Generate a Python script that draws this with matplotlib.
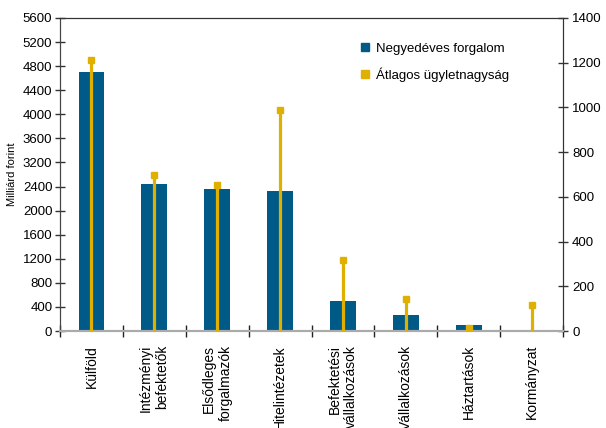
import numpy as np
import matplotlib
matplotlib.use('Agg')
import matplotlib.pyplot as plt
from matplotlib.lines import Line2D

plt.rcParams['font.family'] = ['Liberation Sans Narrow', 'Liberation Sans', 'DejaVu Sans']

# data
categories = ['Külföld', 'Intézményi\nbefektetők', 'Elsődleges\nforgalmazók',
              'Hitelintézetek', 'Befektetési\nvállalkozások', 'Vállalkozások',
              'Háztartások', 'Kormányzat']
turnover = [4700, 2480, 2360, 2325, 500, 265, 100, 20]      # Milliárd forint (left axis)
avg_size = [1210, 700, 652, 987, 316, 145, 12, 116]         # right axis

left_ticks = [0, 400, 800, 1200, 1600, 2000, 2400, 3200, 3600, 4000, 4400, 4800, 5200, 5600]
right_ticks = [0, 200, 400, 600, 800, 1000, 1200, 1400]

blue = '#005A87'
gold = '#E0B000'


# left axis labels skip 2800, so squeeze the 2400-3200 interval into one step
def fwd(v):
    v = np.asarray(v, dtype=float)
    return np.where(v <= 2400, v, np.where(v <= 3200, 2400 + (v - 2400) / 2, v - 400))


def inv(u):
    u = np.asarray(u, dtype=float)
    return np.where(u <= 2400, u, np.where(u <= 2800, 2400 + (u - 2400) * 2, u + 400))


fig = plt.figure(figsize=(6.06, 4.28), dpi=100)
ax = fig.add_axes([60 / 606, 1 - 331 / 428, 503 / 606, 313 / 428])
ax.set_yscale('function', functions=(fwd, inv))

x = np.arange(len(categories))
ax.bar(x, turnover, width=0.41, color=blue, zorder=2)
ax.set_xlim(-0.5, len(categories) - 0.5)
ax.set_ylim(0, 5600)
ax.set_yticks(left_ticks)
ax.set_yticklabels([str(t) for t in left_ticks], fontsize=9.5)
ax.yaxis.set_minor_locator(matplotlib.ticker.NullLocator())
ax.set_ylabel('Milliárd forint', fontsize=8, labelpad=4)

# category ticks at boundaries, labels at centres
ax.set_xticks(np.arange(len(categories) + 1) - 0.5)
ax.set_xticklabels([])
ax.set_xticks(x, minor=True)
ax.set_xticklabels(categories, minor=True, rotation=90, fontsize=10,
                   va='top', ha='center', multialignment='right')
ax.tick_params(axis='x', which='major', direction='inout', length=9, width=1, color='#222222')
ax.tick_params(axis='x', which='minor', length=0, pad=10)
ax.tick_params(axis='y', direction='inout', length=7, width=1, color='#333333', pad=2)

ax2 = ax.twinx()
ax2.set_ylim(0, 1400)
ax2.set_yticks(right_ticks)
ax2.set_yticklabels([str(t) for t in right_ticks], fontsize=9.5)
ax2.tick_params(axis='y', direction='inout', length=7, width=1, color='#333333', pad=3)
ax2.vlines(x, 0, avg_size, color=gold, lw=2.3, zorder=3)
ax2.plot(x, avg_size, ls='none', marker='s', ms=4.5, color=gold, zorder=4)

for a in (ax, ax2):
    a.spines['top'].set_color('#333333')
    a.spines['left'].set_color('#444444')
    a.spines['right'].set_color('#333333')
    a.spines['bottom'].set_color('#aaaaaa')
    a.spines['bottom'].set_linewidth(1.5)

handles = [Line2D([], [], ls='none', marker='s', ms=5.5, color=blue),
           Line2D([], [], ls='none', marker='s', ms=5.5, color=gold)]
ax.legend(handles, ['Negyedéves forgalom', 'Átlagos ügyletnagyság'],
          loc='upper left', bbox_to_anchor=(0.57, 0.96), frameon=False,
          fontsize=9.5, handletextpad=0.3, labelspacing=0.95, handlelength=1)

fig.savefig('out.png', dpi=100)
